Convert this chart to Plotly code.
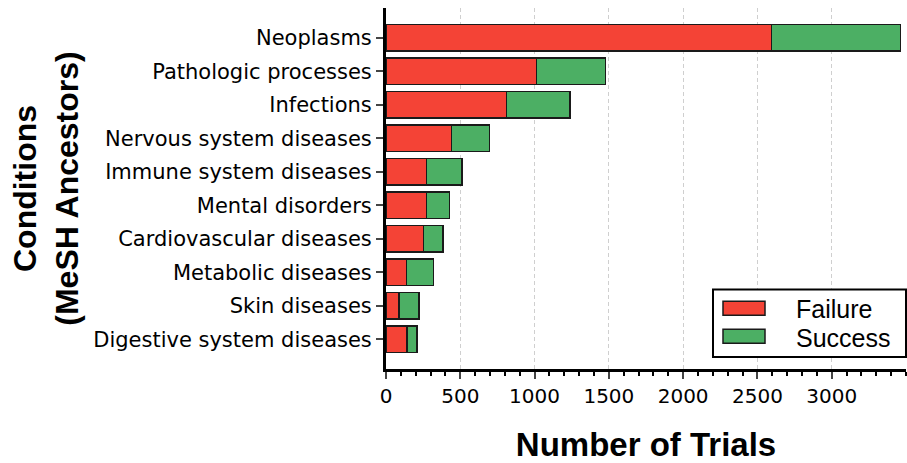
import plotly.graph_objects as go

categories = ["Neoplasms", "Pathologic processes", "Infections", "Nervous system diseases",
              "Immune system diseases", "Mental disorders", "Cardiovascular diseases",
              "Metabolic diseases", "Skin diseases", "Digestive system diseases"]
failure = [2594, 1013, 811, 442, 274, 274, 251, 139, 87, 141]
success = [869, 466, 426, 255, 239, 152, 132, 182, 135, 67]
x_ticks = [0, 500, 1000, 1500, 2000, 2500, 3000]
series_names = ["Failure", "Success"]
series_colors = ["#f44336", "#4caf64"]

W, H = 907, 463
L, R, T, B = 386, 1, 8, 92
PW, PH = W - L - R, H - T - B


def px(x):
    return (x - L) / PW


def py(y):
    return (H - B - y) / PH


cats = categories[::-1]
fig = go.Figure()
for name, vals, col in zip(series_names, [failure, success], series_colors):
    fig.add_trace(go.Bar(y=cats, x=vals[::-1], orientation="h", name=name,
                         marker=dict(color=col, line=dict(color="#1a1a1a", width=1.5)),
                         width=0.8, showlegend=False))

# legend (drawn manually to get wide swatches like the reference)
shapes = [dict(type="rect", xref="paper", yref="paper",
               x0=px(713), x1=px(906), y0=py(359), y1=py(291),
               line=dict(color="black", width=2), fillcolor="white", layer="above")]
annotations = []
sw_y = [(303, 317), (331, 345)]
txt_y = [311, 340]
for (y0, y1), ty, name, col in zip(sw_y, txt_y, series_names, series_colors):
    shapes.append(dict(type="rect", xref="paper", yref="paper",
                       x0=px(723), x1=px(765), y0=py(y1), y1=py(y0),
                       line=dict(color="#1a1a1a", width=1.5), fillcolor=col, layer="above"))
    annotations.append(dict(text=name, xref="paper", yref="paper", x=px(794), y=py(ty),
                            xanchor="left", yanchor="middle", showarrow=False,
                            font=dict(family="Liberation Sans", size=25, color="black")))

fig.update_layout(
    barmode="stack",
    width=W, height=H,
    margin=dict(l=L, r=R, t=T, b=B),
    plot_bgcolor="white", paper_bgcolor="white",
    font=dict(family="DejaVu Sans", size=20, color="black"),
    shapes=shapes, annotations=annotations,
    xaxis=dict(range=[0, 3500], tickvals=x_ticks, ticks="outside", ticklen=7, tickwidth=2,
               showline=True, linecolor="black", linewidth=3,
               showgrid=True, gridcolor="rgba(175,175,175,0.6)", griddash="4px,3px", gridwidth=1,
               minor=dict(dtick=100, ticks="outside", ticklen=4, tickwidth=1.5, tickcolor="black", showgrid=False),
               zeroline=False, layer="above traces",
               tickfont=dict(family="DejaVu Sans", size=20),
               title=dict(text="<b>Number of Trials</b>", standoff=31,
                          font=dict(family="Liberation Sans", size=33))),
    yaxis=dict(range=[-0.89, 9.89], ticks="outside", ticklen=7, tickwidth=2,
               showline=True, linecolor="black", linewidth=3, showgrid=False,
               tickfont=dict(family="DejaVu Sans", size=21),
               title=dict(text="<b>Conditions<br>(MeSH Ancestors)</b>", standoff=6,
                          font=dict(family="Liberation Sans", size=32))),
)

fig.write_html("out.html", config={"displayModeBar": False},
               post_script="document.body.style.margin='0';document.body.style.padding='0';")
